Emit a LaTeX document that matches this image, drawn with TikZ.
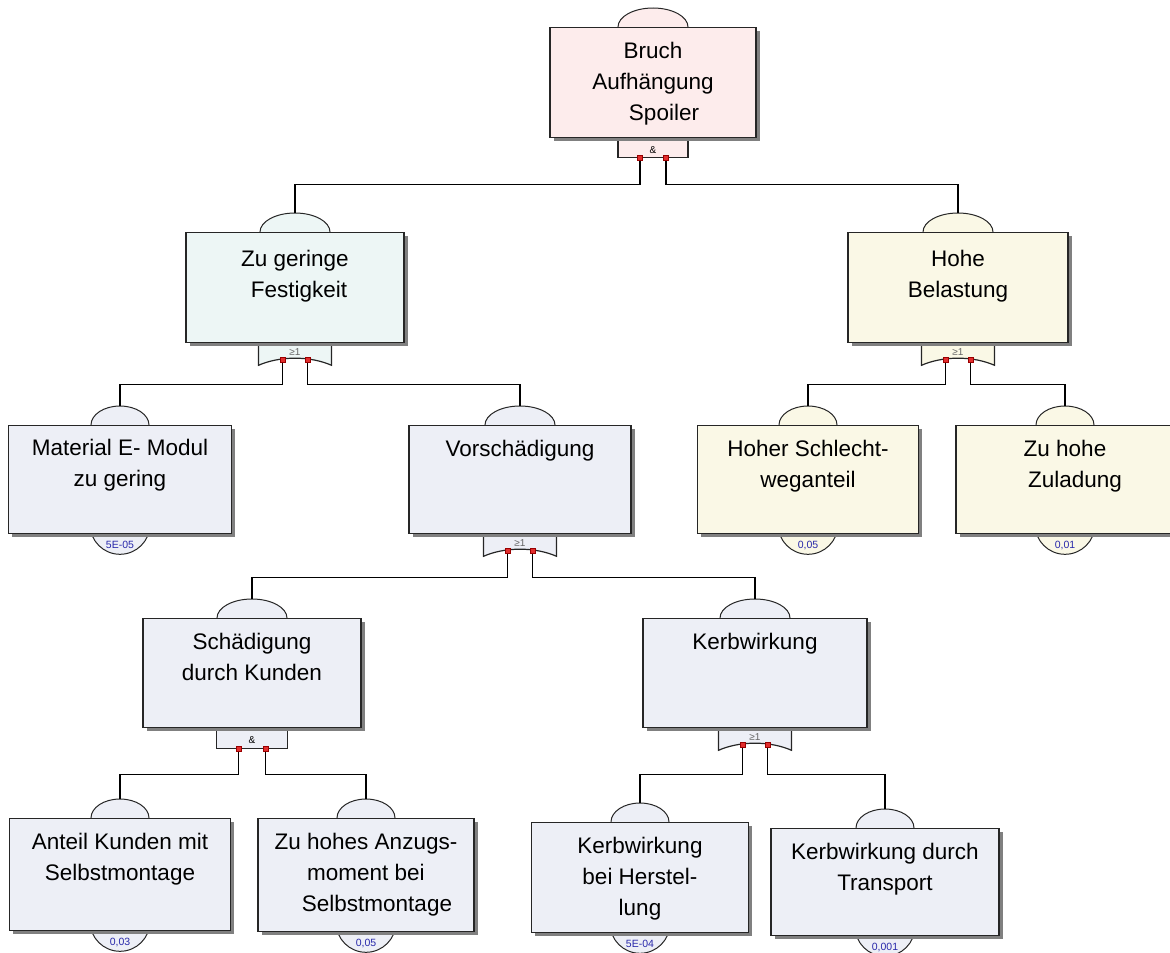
\documentclass[tikz,border=0pt]{standalone}
\usepackage{fontspec}
\setmainfont{Liberation Sans}
\usetikzlibrary{positioning,calc,shapes.geometric,shadows}
\pgfdeclarelayer{background}
\pgfsetlayers{background,main}

\definecolor{pinkev}{RGB}{253,236,236}
\definecolor{mintev}{RGB}{237,246,245}
\definecolor{creamev}{RGB}{250,248,230}
\definecolor{greyev}{RGB}{237,239,246}
\definecolor{probblue}{RGB}{40,40,170}
\definecolor{markred}{RGB}{225,45,45}

\tikzset{
  evbox/.style={draw=black!85, line width=1.3pt, anchor=north, inner sep=0pt,
    drop shadow={shadow xshift=3.5pt, shadow yshift=-3.5pt, fill=black!50, opacity=1}},
  evtext/.style={anchor=north, align=center, inner sep=0pt, font=\fontsize{22.5}{31}\selectfont},
  tabshape/.style={ellipse, draw=black!85, line width=1pt, inner sep=0pt, minimum width=70pt, minimum height=38pt},
  leaftab/.style={tabshape, minimum width=58pt},
  probshape/.style={circle, draw=black!85, line width=1pt, inner sep=0pt, minimum size=60pt},
  probtext/.style={text=probblue, font=\fontsize{10.5}{12}\selectfont, inner sep=0pt},
  gateline/.style={draw=black!85, line width=1.2pt},
  gatetext/.style={font=\fontsize{10}{12}\selectfont, inner sep=0pt},
  conn/.style={line width=1.1pt},
  inmark/.style={rectangle, draw=red!60!black, fill=markred, minimum size=5pt, inner sep=0pt, line width=0.5pt},
}

\begin{document}
\begin{tikzpicture}[x=1pt, y=-1pt]
  \useasboundingbox (0,0) rectangle (1170,953);

  % event boxes
  \node[evbox, fill=pinkev, minimum width=206pt, minimum height=110pt] (bruch) at (653,27) {};
  \node[evbox, fill=mintev, minimum width=218pt, minimum height=110pt] (fest) at (295,232) {};
  \node[evbox, fill=creamev, minimum width=220pt, minimum height=110pt] (belast) at (958,232) {};
  \node[evbox, fill=greyev, minimum width=223pt, minimum height=108pt] (mat) at (120,425) {};
  \node[evbox, fill=greyev, minimum width=222pt, minimum height=108pt] (vor) at (520,425) {};
  \node[evbox, fill=creamev, minimum width=221pt, minimum height=108pt] (schlecht) at (808,425) {};
  \node[evbox, fill=creamev, minimum width=218pt, minimum height=108pt] (zulad) at (1065,425) {};
  \node[evbox, fill=greyev, minimum width=218pt, minimum height=109pt] (kund) at (252,618) {};
  \node[evbox, fill=greyev, minimum width=224pt, minimum height=109pt] (kerb) at (755,618) {};
  \node[evbox, fill=greyev, minimum width=221pt, minimum height=112pt] (anteil) at (120,818) {};
  \node[evbox, fill=greyev, minimum width=216pt, minimum height=113pt] (anzug) at (366,818) {};
  \node[evbox, fill=greyev, minimum width=217pt, minimum height=110pt] (herst) at (640,822) {};
  \node[evbox, fill=greyev, minimum width=228pt, minimum height=107pt] (transp) at (885,828) {};

  % event texts
  \node[evtext] (bruchX) at ($(bruch.north)+(0,15)$) {Bruch\\Aufhängung\\\hspace*{22pt}Spoiler};
  \node[evtext] (festX) at ($(fest.north)+(0,18)$) {Zu geringe\\\hspace*{8pt}Festigkeit};
  \node[evtext] (belastX) at ($(belast.north)+(0,18)$) {Hohe\\Belastung};
  \node[evtext] (matX) at ($(mat.north)+(0,14)$) {Material E- Modul\\zu gering};
  \node[evtext] (vorX) at ($(vor.north)+(0,15)$) {Vorschädigung};
  \node[evtext] (schlechtX) at ($(schlecht.north)+(0,15)$) {Hoher Schlecht-\\weganteil};
  \node[evtext] (zuladX) at ($(zulad.north)+(0,15)$) {Zu hohe\\\hspace*{20pt}Zuladung};
  \node[evtext] (kundX) at ($(kund.north)+(0,15)$) {Schädigung\\durch Kunden};
  \node[evtext] (kerbX) at ($(kerb.north)+(0,15)$) {Kerbwirkung};
  \node[evtext] (anteilX) at ($(anteil.north)+(0,15)$) {Anteil Kunden mit\\Selbstmontage};
  \node[evtext] (anzugX) at ($(anzug.north)+(0,15)$) {Zu hohes Anzugs-\\moment bei\\\hspace*{22pt}Selbstmontage};
  \node[evtext] (herstX) at ($(herst.north)+(0,15)$) {Kerbwirkung\\bei Herstel-\\lung};
  \node[evtext] (transpX) at ($(transp.north)+(0,15)$) {Kerbwirkung durch\\Transport};

  \begin{pgfonlayer}{background}
    % tabs on top
    \node[tabshape, fill=pinkev] (bruchT) at (bruch.north) {};
    \node[tabshape, fill=mintev] (festT) at (fest.north) {};
    \node[tabshape, fill=creamev] (belastT) at (belast.north) {};
    \node[leaftab, fill=greyev] (matT) at (mat.north) {};
    \node[tabshape, fill=greyev] (vorT) at (vor.north) {};
    \node[leaftab, fill=creamev] (schlechtT) at (schlecht.north) {};
    \node[leaftab, fill=creamev] (zuladT) at (zulad.north) {};
    \node[tabshape, fill=greyev] (kundT) at (kund.north) {};
    \node[tabshape, fill=greyev] (kerbT) at (kerb.north) {};
    \node[leaftab, fill=greyev] (anteilT) at (anteil.north) {};
    \node[leaftab, fill=greyev] (anzugT) at (anzug.north) {};
    \node[leaftab, fill=greyev] (herstT) at (herst.north) {};
    \node[leaftab, fill=greyev] (transpT) at (transp.north) {};

    % probability circles
    \node[probshape, fill=greyev] (matP) at ($(mat.south)+(0,-10)$) {};
    \node[probshape, fill=creamev] (schlechtP) at ($(schlecht.south)+(0,-10)$) {};
    \node[probshape, fill=creamev] (zuladP) at ($(zulad.south)+(0,-10)$) {};
    \node[probshape, fill=greyev] (anteilP) at ($(anteil.south)+(0,-10)$) {};
    \node[probshape, fill=greyev] (anzugP) at ($(anzug.south)+(0,-10)$) {};
    \node[probshape, fill=greyev] (herstP) at ($(herst.south)+(0,-10)$) {};
    \node[probshape, fill=greyev] (transpP) at ($(transp.south)+(0,-10)$) {};

    % gates
    \filldraw[gateline, fill=pinkev] ($(bruch.south)+(-35,0)$) -- ($(bruch.south)+(-35,19)$) -- ($(bruch.south)+(35,19)$) -- ($(bruch.south)+(35,0)$);
    \filldraw[gateline, fill=mintev] ($(fest.south)+(-36.5,0)$) -- ($(fest.south)+(-36.5,22)$) .. controls ($(fest.south)+(-15,12.5)$) and ($(fest.south)+(15,12.5)$) .. ($(fest.south)+(36.5,22)$) -- ($(fest.south)+(36.5,0)$);
    \filldraw[gateline, fill=creamev] ($(belast.south)+(-36.5,0)$) -- ($(belast.south)+(-36.5,22)$) .. controls ($(belast.south)+(-15,12.5)$) and ($(belast.south)+(15,12.5)$) .. ($(belast.south)+(36.5,22)$) -- ($(belast.south)+(36.5,0)$);
    \filldraw[gateline, fill=greyev] ($(vor.south)+(-36.5,0)$) -- ($(vor.south)+(-36.5,22)$) .. controls ($(vor.south)+(-15,12.5)$) and ($(vor.south)+(15,12.5)$) .. ($(vor.south)+(36.5,22)$) -- ($(vor.south)+(36.5,0)$);
    \filldraw[gateline, fill=greyev] ($(kund.south)+(-35.5,0)$) -- ($(kund.south)+(-35.5,20)$) -- ($(kund.south)+(35.5,20)$) -- ($(kund.south)+(35.5,0)$);
    \filldraw[gateline, fill=greyev] ($(kerb.south)+(-36.5,0)$) -- ($(kerb.south)+(-36.5,22)$) .. controls ($(kerb.south)+(-15,12.5)$) and ($(kerb.south)+(15,12.5)$) .. ($(kerb.south)+(36.5,22)$) -- ($(kerb.south)+(36.5,0)$);
  \end{pgfonlayer}

  % gate labels
  \node[gatetext] (bruchG) at ($(bruch.south)+(0,12)$) {\&};
  \node[gatetext, text=black!60] (festG) at ($(fest.south)+(0,9)$) {≥1};
  \node[gatetext, text=black!60] (belastG) at ($(belast.south)+(0,9)$) {≥1};
  \node[gatetext, text=black!60] (vorG) at ($(vor.south)+(0,9)$) {≥1};
  \node[gatetext] (kundG) at ($(kund.south)+(0,12)$) {\&};
  \node[gatetext, text=black!60] (kerbG) at ($(kerb.south)+(0,9)$) {≥1};

  % probabilities
  \node[probtext] (matPT) at ($(mat.south)+(0,11)$) {5E-05};
  \node[probtext] (schlechtPT) at ($(schlecht.south)+(0,11)$) {0,05};
  \node[probtext] (zuladPT) at ($(zulad.south)+(0,11)$) {0,01};
  \node[probtext] (anteilPT) at ($(anteil.south)+(0,11)$) {0,03};
  \node[probtext] (anzugPT) at ($(anzug.south)+(0,11)$) {0,05};
  \node[probtext] (herstPT) at ($(herst.south)+(0,11)$) {5E-04};
  \node[probtext] (transpPT) at ($(transp.south)+(0,11)$) {0,001};

  % gate inputs
  \coordinate (bruchI1) at ($(bruch.south)+(-13,19)$);
  \coordinate (bruchI2) at ($(bruch.south)+(13,19)$);
  \coordinate (festI1) at ($(fest.south)+(-12.5,16)$);
  \coordinate (festI2) at ($(fest.south)+(12.5,16)$);
  \coordinate (belastI1) at ($(belast.south)+(-12.5,16)$);
  \coordinate (belastI2) at ($(belast.south)+(12.5,16)$);
  \coordinate (vorI1) at ($(vor.south)+(-12.5,16)$);
  \coordinate (vorI2) at ($(vor.south)+(12.5,16)$);
  \coordinate (kundI1) at ($(kund.south)+(-13.5,20)$);
  \coordinate (kundI2) at ($(kund.south)+(13.5,20)$);
  \coordinate (kerbI1) at ($(kerb.south)+(-12.5,16)$);
  \coordinate (kerbI2) at ($(kerb.south)+(12.5,16)$);

  % connectors
  \draw[conn] (bruchI1) -- ++(0,27) -| (festT.north);
  \draw[conn] (bruchI2) -- ++(0,27) -| (belastT.north);
  \draw[conn] (festI1) -- ++(0,25) -| (matT.north);
  \draw[conn] (festI2) -- ++(0,25) -| (vorT.north);
  \draw[conn] (belastI1) -- ++(0,25) -| (schlechtT.north);
  \draw[conn] (belastI2) -- ++(0,25) -| (zuladT.north);
  \draw[conn] (vorI1) -- ++(0,27) -| (kundT.north);
  \draw[conn] (vorI2) -- ++(0,27) -| (kerbT.north);
  \draw[conn] (kundI1) -- ++(0,26) -| (anteilT.north);
  \draw[conn] (kundI2) -- ++(0,26) -| (anzugT.north);
  \draw[conn] (kerbI1) -- ++(0,30) -| (herstT.north);
  \draw[conn] (kerbI2) -- ++(0,30) -| (transpT.north);

  % input marks
  \node[inmark] (bruchM1) at (bruchI1) {};
  \node[inmark] (bruchM2) at (bruchI2) {};
  \node[inmark] (festM1) at (festI1) {};
  \node[inmark] (festM2) at (festI2) {};
  \node[inmark] (belastM1) at (belastI1) {};
  \node[inmark] (belastM2) at (belastI2) {};
  \node[inmark] (vorM1) at (vorI1) {};
  \node[inmark] (vorM2) at (vorI2) {};
  \node[inmark] (kundM1) at (kundI1) {};
  \node[inmark] (kundM2) at (kundI2) {};
  \node[inmark] (kerbM1) at (kerbI1) {};
  \node[inmark] (kerbM2) at (kerbI2) {};
\end{tikzpicture}
\end{document}
